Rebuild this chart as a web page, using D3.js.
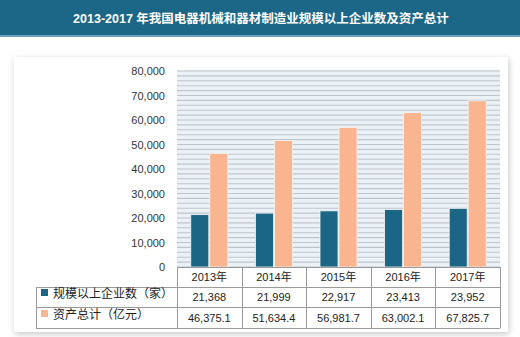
<!DOCTYPE html>
<html><head><meta charset="utf-8">
<script src="https://cdn.jsdelivr.net/npm/d3@7"></script>
<style>html,body{margin:0;padding:0;background:#fff;}svg{display:block;}</style>
</head><body>
<script>
const title = "2013-2017 年我国电器机械和器材制造业规模以上企业数及资产总计";
const years = ["2013年","2014年","2015年","2016年","2017年"];
const seriesNames = ["规模以上企业数（家）","资产总计（亿元）"];
const enterprises = [21368, 21999, 22917, 23413, 23952];
const assets = [46375.1, 51634.4, 56981.7, 63002.1, 67825.7];
const enterpriseLabels = ["21,368","21,999","22,917","23,413","23,952"];
const assetLabels = ["46,375.1","51,634.4","56,981.7","63,002.1","67,825.7"];
const yTicks = [0,10000,20000,30000,40000,50000,60000,70000,80000];
const colors = ["#1b6585","#f8b590"];

(function(){
const W=520,H=337;
const svg=d3.select("body").append("svg").attr("width",W).attr("height",H);
const defs=svg.append("defs");
const f=defs.append("filter").attr("id","sh").attr("x","-5%").attr("y","-5%").attr("width","110%").attr("height","115%");
f.append("feDropShadow").attr("dx",1).attr("dy",2).attr("stdDeviation",3).attr("flood-color","#000").attr("flood-opacity",0.22);

svg.append("rect").attr("x",0).attr("y",0).attr("width",W).attr("height",37).attr("fill","#1c6687");
svg.append("rect").attr("x",0).attr("y",35).attr("width",W).attr("height",2).attr("fill","#6fa3bd");
svg.append("text").attr("x",261).attr("y",23).attr("text-anchor","middle")
  .attr("fill","#fff").attr("font-weight","bold").attr("font-size","12.5px")
  .attr("font-family","'Liberation Sans','Noto Sans CJK SC',sans-serif").text(title);

svg.append("rect").attr("x",14).attr("y",57).attr("width",494).attr("height",275).attr("fill","#fff").attr("filter","url(#sh)");

const pl=177,pr=500,pt=71,pb=267;
const y=d3.scaleLinear().domain([0,80000]).range([pb,pt]);
const x=d3.scaleBand().domain(years).range([pl,pr]).padding(0);
const font="'Liberation Sans','Noto Sans CJK SC',sans-serif";

svg.append("rect").attr("x",pl).attr("y",pt-1).attr("width",pr-pl).attr("height",pb-pt+1).attr("fill","#eaf1f7");
const minor=d3.range(0,80001,2000);
svg.append("g").selectAll("line").data(minor).join("line")
  .attr("x1",pl).attr("x2",pr).attr("y1",d=>y(d)).attr("y2",d=>y(d))
  .attr("stroke","#bfc5cb").attr("stroke-width",1.1);

const yAxis=d3.axisLeft(y).tickValues(yTicks).tickFormat(d3.format(",")).tickSize(0).tickPadding(12);
const ga=svg.append("g").attr("transform",`translate(${pl},0)`).call(yAxis);
ga.select(".domain").remove();
ga.selectAll("text").attr("font-size","11px").attr("font-family",font).attr("fill","#333");

const data=years.map((yr,i)=>({yr,vals:[enterprises[i],assets[i]]}));
const bw=18, gap=1;
const g=svg.append("g");
data.forEach(d=>{
  const cx=x(d.yr)+x.bandwidth()/2;
  const sub=d3.scaleBand().domain([0,1]).range([cx-bw-gap/2,cx+bw+gap/2]).paddingInner(gap/(bw+gap));
  d.vals.forEach((v,j)=>{
    g.append("rect").attr("x",sub(j)).attr("y",y(v)).attr("width",sub.bandwidth()).attr("height",y(0)-y(v))
     .attr("fill",colors[j]).attr("stroke","#f4f4f4").attr("stroke-width",0.8);
  });
});

const tl=36, rows=[267,287,307,328];
const tg=svg.append("g").attr("stroke","#9a9a9a").attr("stroke-width",1).attr("fill","none");
tg.append("line").attr("x1",pl).attr("x2",pr).attr("y1",rows[0]+0.5).attr("y2",rows[0]+0.5);
[rows[1],rows[2],rows[3]].forEach(r=>tg.append("line").attr("x1",tl).attr("x2",pr).attr("y1",r+0.5).attr("y2",r+0.5));
tg.append("line").attr("x1",tl+0.5).attr("x2",tl+0.5).attr("y1",rows[1]).attr("y2",rows[3]);
years.forEach(yr=>tg.append("line").attr("x1",Math.round(x(yr))+0.5).attr("x2",Math.round(x(yr))+0.5).attr("y1",rows[0]).attr("y2",rows[3]));
tg.append("line").attr("x1",pr+0.5).attr("x2",pr+0.5).attr("y1",rows[0]).attr("y2",rows[3]);

const tt=svg.append("g").attr("font-family",font).attr("font-size","11px").attr("fill","#222").attr("text-anchor","middle");
years.forEach((yr,i)=>{
  const cx=x(yr)+x.bandwidth()/2;
  tt.append("text").attr("x",cx).attr("y",281).text(yr);
  tt.append("text").attr("x",cx).attr("y",301).text(enterpriseLabels[i]);
  tt.append("text").attr("x",cx).attr("y",322).text(assetLabels[i]);
});
[[colors[0],seriesNames[0],297],[colors[1],seriesNames[1],318]].forEach(([c,n,yy])=>{
  svg.append("rect").attr("x",41).attr("y",yy-8).attr("width",7).attr("height",7).attr("fill",c);
  svg.append("text").attr("x",53).attr("y",yy+1).attr("font-family",font).attr("font-size","12px").attr("fill","#222").text(n);
});
})();
</script>
</body></html>
